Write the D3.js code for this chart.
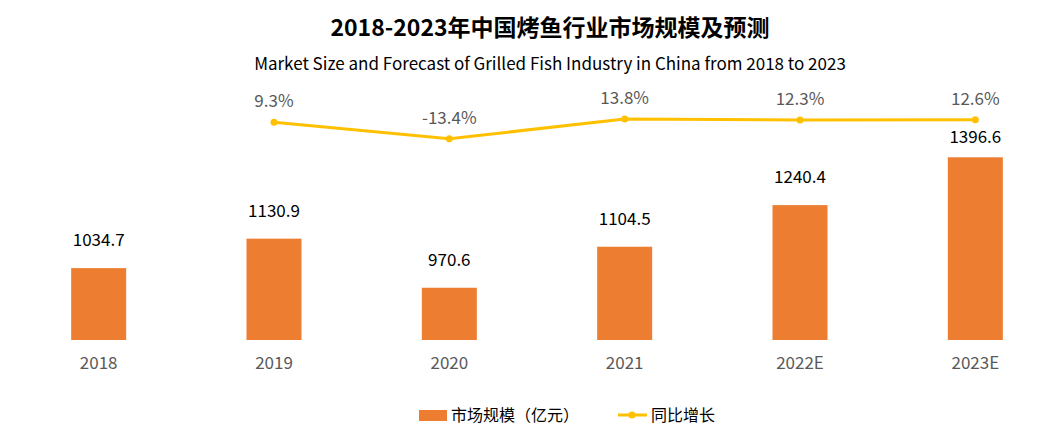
<!DOCTYPE html>
<html><head><meta charset="utf-8">
<script src="https://cdn.jsdelivr.net/npm/d3@7"></script>
<style>
html,body{margin:0;padding:0;background:#fff;}
svg{display:block;font-family:"Noto Sans CJK SC","Noto Sans",sans-serif;}
</style></head>
<body>
<svg id="chart" width="1045" height="440"></svg>
<script>
const categories = ["2018","2019","2020","2021","2022E","2023E"];
const marketSize = [1034.7,1130.9,970.6,1104.5,1240.4,1396.6];
const growth = [null,9.3,-13.4,13.8,12.3,12.6];
const growthLabels = [null,"9.3%","-13.4%","13.8%","12.3%","12.6%"];
const titleText = "2018-2023年中国烤鱼行业市场规模及预测";
const subtitleText = "Market Size and Forecast of Grilled Fish Industry in China from 2018 to 2023";
const legendLabels = ["市场规模（亿元）","同比增长"];

const svg = d3.select("#chart");
const barColor = "#ED7D31", lineColor = "#FFC000", gray = "#595959";

const x = d3.scaleBand().domain(categories).range([11,1063]).paddingInner(0.686).paddingOuter(0.343);
const y = d3.scaleLinear().domain([800,1600]).range([340,95]);
const y2 = d3.scaleLinear().domain([-20,20]).range([143.5,114.5]);

// title
svg.append("text").attr("x",550).attr("y",36).attr("text-anchor","middle")
  .attr("font-size",23).attr("font-weight","bold").attr("fill","#000").text(titleText);
svg.append("text").attr("x",550).attr("y",70).attr("text-anchor","middle")
  .attr("font-size",17).attr("fill","#000").text(subtitleText);

// bars
const data = categories.map((c,i)=>({c, v:marketSize[i], g:growth[i], gl:growthLabels[i]}));
svg.append("g").selectAll("rect").data(data).join("rect")
  .attr("x",d=>x(d.c)+ (x.bandwidth()-55)/2).attr("width",55)
  .attr("y",d=>y(d.v)).attr("height",d=>y(800)-y(d.v)).attr("fill",barColor);

// x axis (labels only)
const xAxis = d3.axisBottom(x).tickSize(0).tickPadding(0);
const gx = svg.append("g").attr("transform","translate(0,369)").call(xAxis);
gx.select(".domain").remove();
gx.selectAll("text").attr("dy",0).attr("font-size",17).attr("fill",gray)
  .attr("font-family","'Noto Sans CJK SC','Noto Sans',sans-serif");

// line
const lineData = data.filter(d=>d.g!==null);
const cx = d=>x(d.c)+x.bandwidth()/2;
svg.append("path").datum(lineData)
  .attr("d",d3.line().x(cx).y(d=>y2(d.g)))
  .attr("fill","none").attr("stroke",lineColor).attr("stroke-width",3);
svg.append("g").selectAll("circle").data(lineData).join("circle")
  .attr("cx",cx).attr("cy",d=>y2(d.g)).attr("r",3.5).attr("fill",lineColor);

// growth labels
svg.append("g").selectAll("text").data(lineData).join("text")
  .attr("x",cx).attr("y",d=>y2(d.g)-15).attr("text-anchor","middle")
  .attr("font-size",17).attr("fill",gray).text(d=>d.gl);

// value labels
svg.append("g").selectAll("text").data(data).join("text")
  .attr("x",cx).attr("y",d=>{
    const base = y(d.v)-22;
    const limit = d.g!==null ? y2(d.g)+23 : 0;
    return Math.max(base, limit);
  }).attr("text-anchor","middle")
  .attr("font-size",17).attr("fill","#000").text(d=>d.v.toFixed(1));

// legend
const lg = svg.append("g");
lg.append("rect").attr("x",419).attr("y",410).attr("width",28).attr("height",11).attr("fill",barColor);
lg.append("text").attr("x",451).attr("y",421).attr("font-size",16).attr("fill","#000").text(legendLabels[0]);
lg.append("line").attr("x1",618).attr("x2",647).attr("y1",415).attr("y2",415).attr("stroke",lineColor).attr("stroke-width",3);
lg.append("circle").attr("cx",632).attr("cy",415).attr("r",3.5).attr("fill",lineColor);
lg.append("text").attr("x",651).attr("y",421).attr("font-size",16).attr("fill","#000").text(legendLabels[1]);
</script>
</body></html>
